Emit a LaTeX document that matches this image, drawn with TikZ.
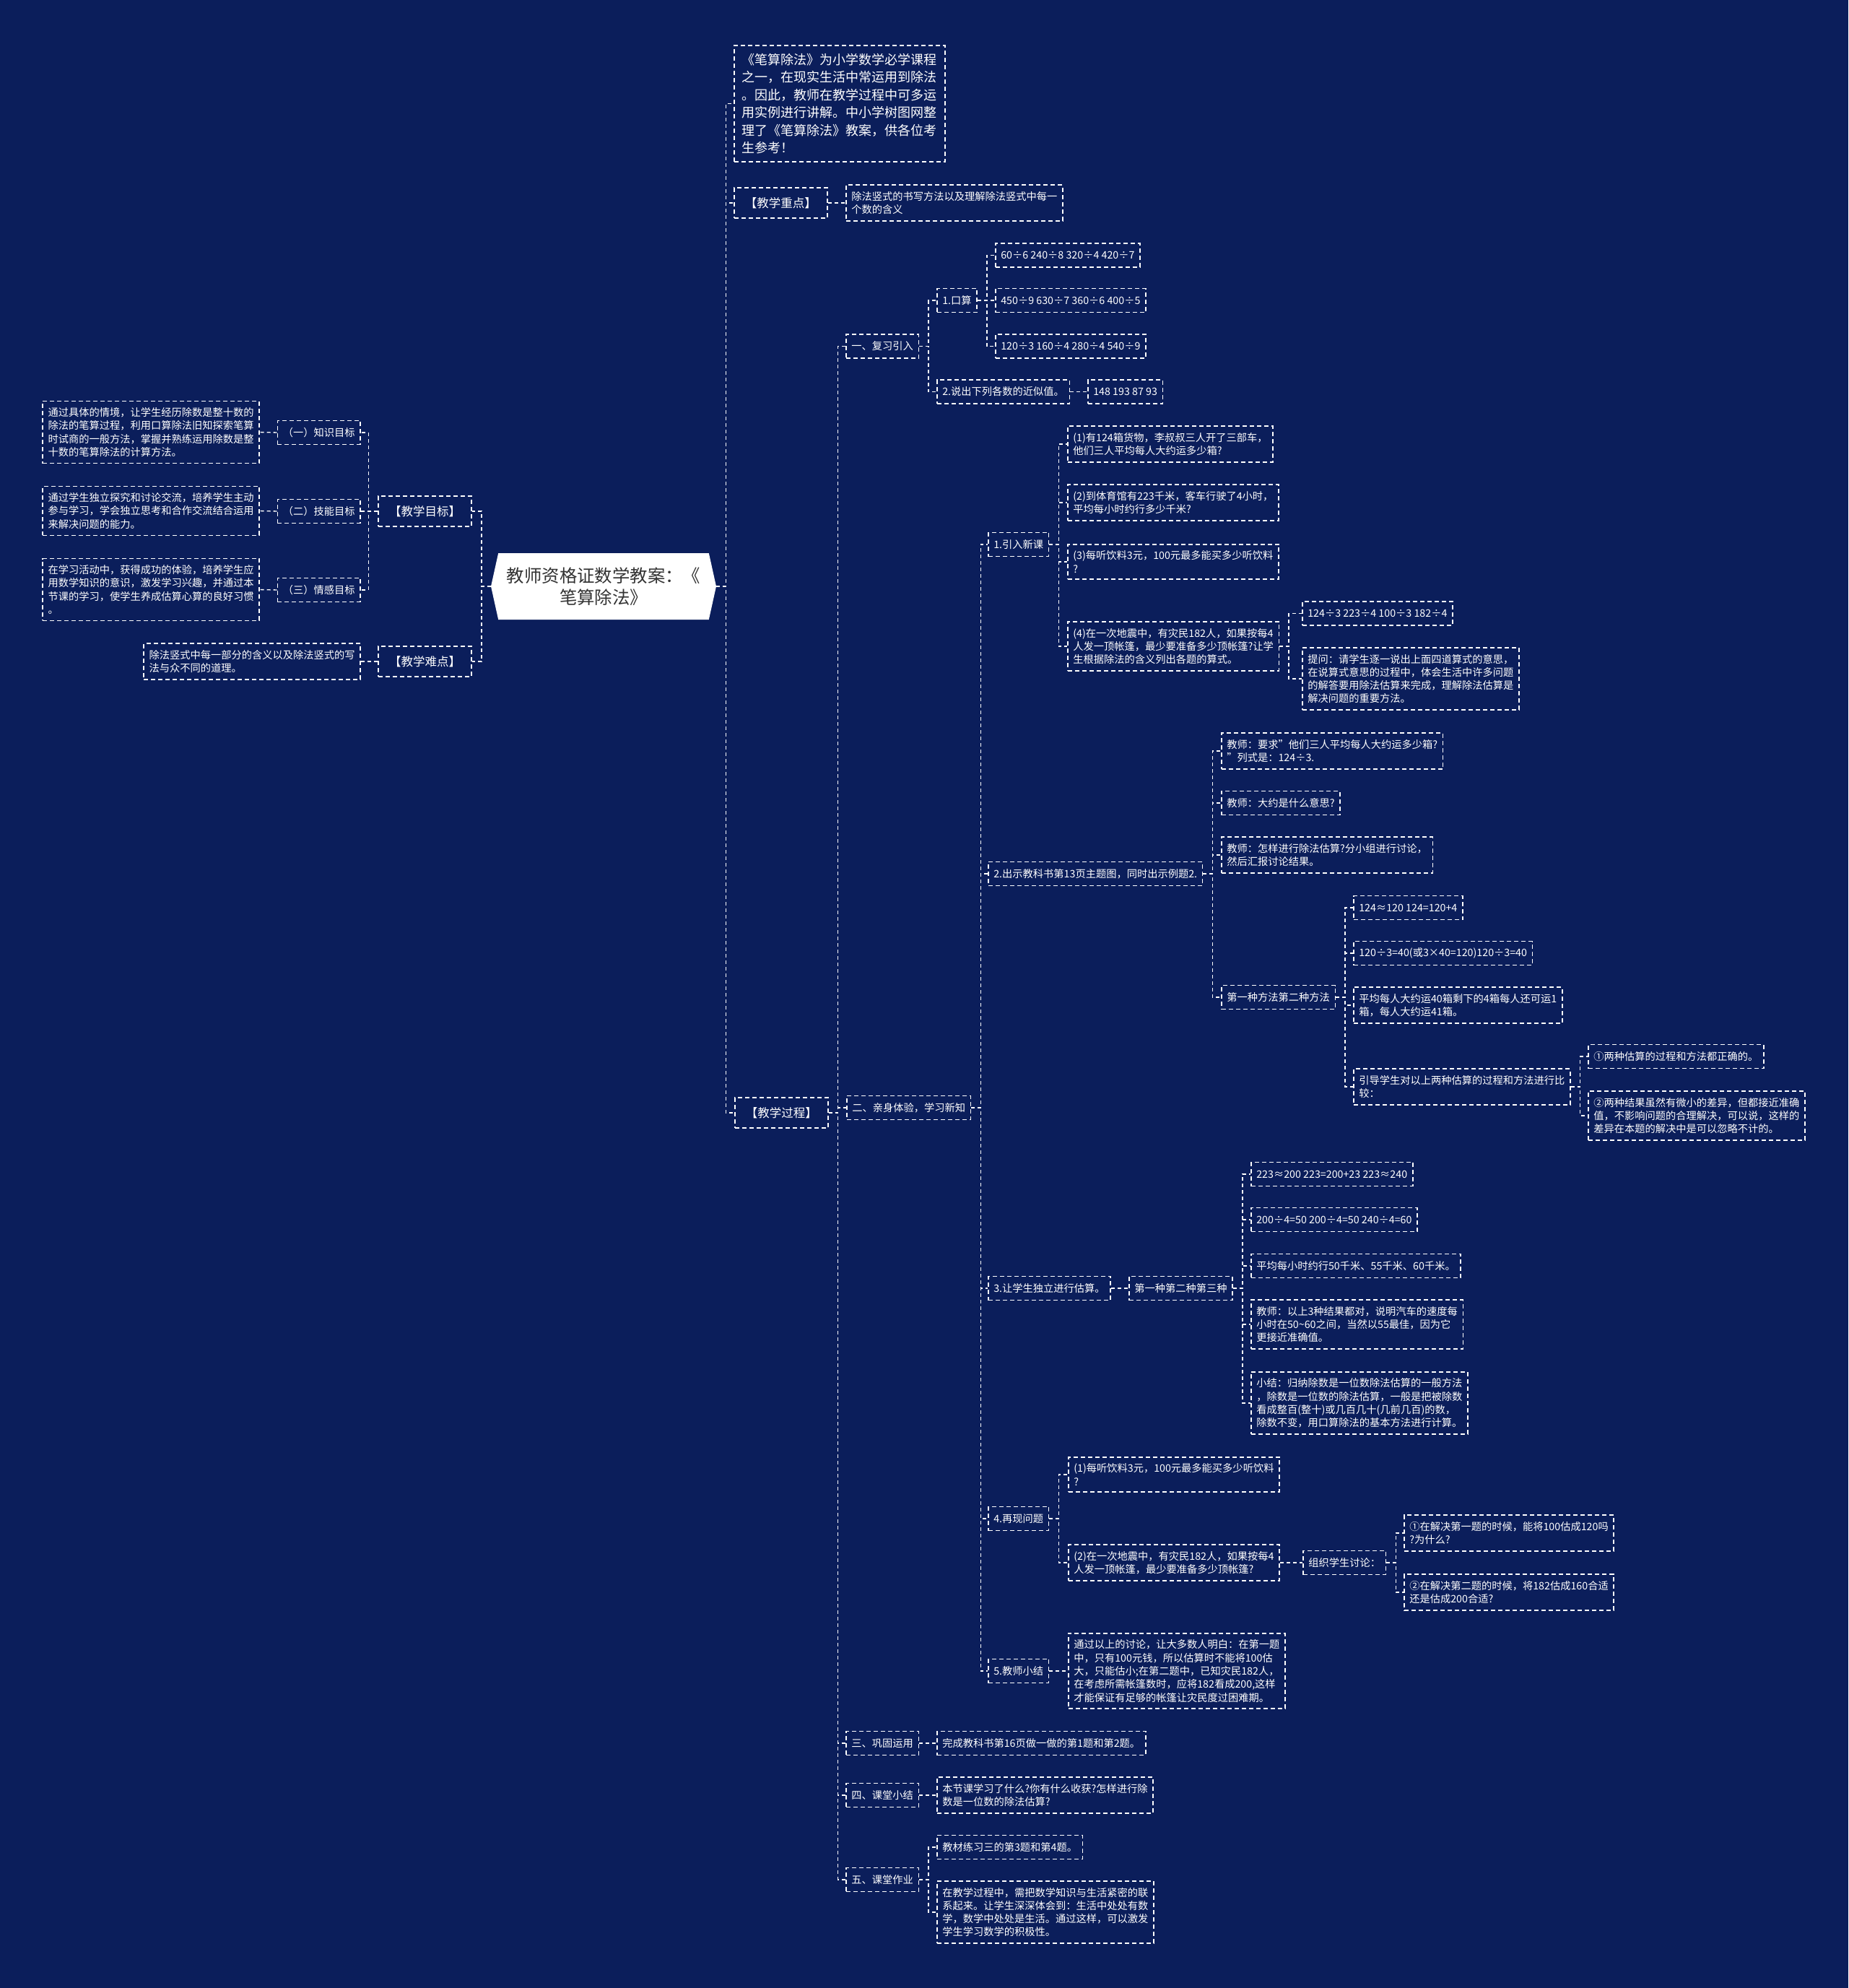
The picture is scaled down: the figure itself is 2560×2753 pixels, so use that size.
\documentclass[tikz,border=0pt]{standalone}
\usepackage{fontspec}
\setmainfont{Noto Sans CJK SC}
\usepackage{tikz}
\usetikzlibrary{positioning, shapes.symbols}
\definecolor{bgnavy}{HTML}{0B1E5B}
\definecolor{rootink}{HTML}{333333}

\tikzset{
  link/.style={draw=white, line width=1.4pt, dash pattern=on 5pt off 4pt},
  sbox/.style={draw=white, line width=1.6pt, dash pattern=on 6pt off 4pt, text=white,
    align=left, inner xsep=7.5pt, inner ysep=9pt, minimum height=33pt,
    font=\fontsize{14.25}{18.3}\selectfont},
  mbox/.style={sbox, inner xsep=15pt, minimum height=42pt, font=\fontsize{16.5}{21}\selectfont},
  ibox/.style={sbox, inner xsep=11pt, inner ysep=11pt, font=\fontsize{18}{24.5}\selectfont},
  rootnode/.style={shape=signal, signal to=east and west, signal pointer angle=155,
    fill=white, text=rootink, align=center, inner sep=0pt,
    minimum width=312pt, minimum height=92pt, font=\fontsize{24.4}{30}\selectfont}
}

\begin{document}
\begin{tikzpicture}[x=1pt, y=-1pt]
    % background and page size
    \fill[bgnavy] (0,0) rectangle (2560,2753);
    \useasboundingbox (0,0) rectangle (2560,2753);

    % root
    \node[rootnode] (root) at (836,812) {教师资格证数学教案：《\\笔算除法》};

    % left side
    \node[mbox, anchor=east] (mb) at (654,708) {【教学目标】};
    \node[sbox, anchor=east] (mb1) at (500,599) {（一）知识目标};
    \node[sbox, anchor=east] (mb2) at (500,708) {（二）技能目标};
    \node[sbox, anchor=east] (mb3) at (500,817) {（三）情感目标};
    \node[sbox, anchor=east] (mb1t) at (360,598.5) {通过具体的情境，让学生经历除数是整十数的\\除法的笔算过程，利用口算除法旧知探索笔算\\时试商的一般方法，掌握并熟练运用除数是整\\十数的笔算除法的计算方法。};
    \node[sbox, anchor=east] (mb2t) at (360,707.5) {通过学生独立探究和讨论交流，培养学生主动\\参与学习，学会独立思考和合作交流结合运用\\来解决问题的能力。};
    \node[sbox, anchor=east] (mb3t) at (360,816.5) {在学习活动中，获得成功的体验，培养学生应\\用数学知识的意识，激发学习兴趣，并通过本\\节课的学习，使学生养成估算心算的良好习惯\\。};
    \node[mbox, anchor=east] (nd) at (654,916) {【教学难点】};
    \node[sbox, anchor=east] (ndt) at (500,916) {除法竖式中每一部分的含义以及除法竖式的写\\法与众不同的道理。};

    \foreach \c in {mb,nd} \draw[link] (root.west) -- ++(-13,0) |- (\c.east);
    \foreach \c in {mb1,mb2,mb3} \draw[link] (mb.west) -- ++(-13,0) |- (\c.east);
    \draw[link] (mb1.west) -- (mb1t.east);
    \draw[link] (mb2.west) -- (mb2t.east);
    \draw[link] (mb3.west) -- (mb3t.east);
    \draw[link] (nd.west) -- (ndt.east);

    % right side, first level
    \node[ibox, anchor=west] (intro) at (1016,143.5) {《笔算除法》为小学数学必学课程\\之一，在现实生活中常运用到除法\\。因此，教师在教学过程中可多运\\用实例进行讲解。中小学树图网整\\理了《笔算除法》教案，供各位考\\生参考！};
    \node[mbox, anchor=west] (zd) at (1016,281) {【教学重点】};
    \node[sbox, anchor=west] (zdt) at (1171,281) {除法竖式的书写方法以及理解除法竖式中每一\\个数的含义};
    \node[mbox, anchor=west] (gc) at (1017,1541) {【教学过程】};

    \foreach \c in {intro,zd,gc} \draw[link] (root.east) -- ++(13,0) |- (\c.west);
    \draw[link] (zd.east) -- (zdt.west);

    % 教学过程 steps
    \node[sbox, anchor=west] (s1) at (1171,479.5) {一、复习引入};
    \node[sbox, anchor=west] (s2) at (1172,1534) {二、亲身体验，学习新知};
    \node[sbox, anchor=west] (s3) at (1171,2414) {三、巩固运用};
    \node[sbox, anchor=west] (s4) at (1171,2486) {四、课堂小结};
    \node[sbox, anchor=west] (s5) at (1171,2603) {五、课堂作业};
    \foreach \c in {s1,s2,s3,s4,s5} \draw[link] (gc.east) -- ++(13,0) |- (\c.west);

    % 一、复习引入
    \node[sbox, anchor=west] (ks) at (1297,416) {1.口算};
    \node[sbox, anchor=west] (ks1) at (1378,353.5) {60÷6 240÷8 320÷4 420÷7};
    \node[sbox, anchor=west] (ks2) at (1378,416) {450÷9 630÷7 360÷6 400÷5};
    \node[sbox, anchor=west] (ks3) at (1378,479.5) {120÷3 160÷4 280÷4 540÷9};
    \node[sbox, anchor=west] (jsz) at (1297,542.5) {2.说出下列各数的近似值。};
    \node[sbox, anchor=west] (jszv) at (1506,542.5) {148 193 87 93};
    \foreach \c in {ks,jsz} \draw[link] (s1.east) -- ++(13,0) |- (\c.west);
    \foreach \c in {ks1,ks2,ks3} \draw[link] (ks.east) -- ++(13,0) |- (\c.west);
    \draw[link] (jsz.east) -- (jszv.west);

    % 二、亲身体验，学习新知
    \node[sbox, anchor=west] (yr) at (1368,754) {1.引入新课};
    \node[sbox, anchor=west] (cs) at (1368,1210) {2.出示教科书第13页主题图，同时出示例题2.};
    \node[sbox, anchor=west] (gs) at (1368,1784) {3.让学生独立进行估算。};
    \node[sbox, anchor=west] (zx) at (1368,2103) {4.再现问题};
    \node[sbox, anchor=west] (xj) at (1368,2314) {5.教师小结};
    \foreach \c in {yr,cs,gs,zx,xj} \draw[link] (s2.east) -- ++(13,0) |- (\c.west);

    % 1.引入新课
    \node[sbox, anchor=west] (q1) at (1478,615) {(1)有124箱货物，李叔叔三人开了三部车，\\他们三人平均每人大约运多少箱?};
    \node[sbox, anchor=west] (q2) at (1478,696) {(2)到体育馆有223千米，客车行驶了4小时，\\平均每小时约行多少千米?};
    \node[sbox, anchor=west] (q3) at (1478,778) {(3)每听饮料3元，100元最多能买多少听饮料\\?};
    \node[sbox, anchor=west] (q4) at (1478,895) {(4)在一次地震中，有灾民182人，如果按每4\\人发一顶帐篷，最少要准备多少顶帐篷?让学\\生根据除法的含义列出各题的算式。};
    \node[sbox, anchor=west] (q4a) at (1803,849.5) {124÷3 223÷4 100÷3 182÷4};
    \node[sbox, anchor=west] (q4b) at (1803,940) {提问：请学生逐一说出上面四道算式的意思，\\在说算式意思的过程中，体会生活中许多问题\\的解答要用除法估算来完成，理解除法估算是\\解决问题的重要方法。};
    \foreach \c in {q1,q2,q3,q4} \draw[link] (yr.east) -- ++(13,0) |- (\c.west);
    \foreach \c in {q4a,q4b} \draw[link] (q4.east) -- ++(13,0) |- (\c.west);

    % 2.出示教科书
    \node[sbox, anchor=west] (cs1) at (1691,1040) {教师：要求\symbol{34}他们三人平均每人大约运多少箱?\\\symbol{34}列式是：124÷3.};
    \node[sbox, anchor=west] (cs2) at (1691,1112) {教师：大约是什么意思?};
    \node[sbox, anchor=west] (cs3) at (1691,1184) {教师：怎样进行除法估算?分小组进行讨论，\\然后汇报讨论结果。};
    \node[sbox, anchor=west] (cs4) at (1691,1381) {第一种方法第二种方法};
    \node[sbox, anchor=west] (m1) at (1874,1257) {124≈120 124=120+4};
    \node[sbox, anchor=west] (m2) at (1874,1320) {120÷3=40(或3×40=120)120÷3=40};
    \node[sbox, anchor=west] (m3) at (1874,1392) {平均每人大约运40箱剩下的4箱每人还可运1\\箱，每人大约运41箱。};
    \node[sbox, anchor=west] (m4) at (1874,1505) {引导学生对以上两种估算的过程和方法进行比\\较：};
    \node[sbox, anchor=west] (m4a) at (2199,1463) {①两种估算的过程和方法都正确的。};
    \node[sbox, anchor=west] (m4b) at (2199,1545) {②两种结果虽然有微小的差异，但都接近准确\\值，不影响问题的合理解决，可以说，这样的\\差异在本题的解决中是可以忽略不计的。};
    \foreach \c in {cs1,cs2,cs3,cs4} \draw[link] (cs.east) -- ++(13,0) |- (\c.west);
    \foreach \c in {m1,m2,m3,m4} \draw[link] (cs4.east) -- ++(13,0) |- (\c.west);
    \foreach \c in {m4a,m4b} \draw[link] (m4.east) -- ++(13,0) |- (\c.west);

    % 3.让学生独立进行估算
    \node[sbox, anchor=west] (gs0) at (1563,1784) {第一种第二种第三种};
    \node[sbox, anchor=west] (g1) at (1732,1626) {223≈200 223=200+23 223≈240};
    \node[sbox, anchor=west] (g2) at (1732,1689) {200÷4=50 200÷4=50 240÷4=60};
    \node[sbox, anchor=west] (g3) at (1732,1753) {平均每小时约行50千米、55千米、60千米。};
    \node[sbox, anchor=west] (g4) at (1732,1834) {教师：以上3种结果都对，说明汽车的速度每\\小时在50\textasciitilde 60之间，当然以55最佳，因为它\\更接近准确值。};
    \node[sbox, anchor=west] (g5) at (1732,1943) {小结：归纳除数是一位数除法估算的一般方法\\，除数是一位数的除法估算，一般是把被除数\\看成整百(整十)或几百几十(几前几百)的数，\\除数不变，用口算除法的基本方法进行计算。};
    \draw[link] (gs.east) -- (gs0.west);
    \foreach \c in {g1,g2,g3,g4,g5} \draw[link] (gs0.east) -- ++(13,0) |- (\c.west);

    % 4.再现问题
    \node[sbox, anchor=west] (z1) at (1479,2042) {(1)每听饮料3元，100元最多能买多少听饮料\\?};
    \node[sbox, anchor=west] (z2) at (1479,2164) {(2)在一次地震中，有灾民182人，如果按每4\\人发一顶帐篷，最少要准备多少顶帐篷?};
    \node[sbox, anchor=west] (zz) at (1804,2164) {组织学生讨论：};
    \node[sbox, anchor=west] (zz1) at (1944,2123) {①在解决第一题的时候，能将100估成120吗\\?为什么?};
    \node[sbox, anchor=west] (zz2) at (1944,2205) {②在解决第二题的时候，将182估成160合适\\还是估成200合适?};
    \foreach \c in {z1,z2} \draw[link] (zx.east) -- ++(13,0) |- (\c.west);
    \draw[link] (z2.east) -- (zz.west);
    \foreach \c in {zz1,zz2} \draw[link] (zz.east) -- ++(13,0) |- (\c.west);

    % 5.教师小结
    \node[sbox, anchor=west] (xjt) at (1479,2314) {通过以上的讨论，让大多数人明白：在第一题\\中，只有100元钱，所以估算时不能将100估\\大，只能估小;在第二题中，已知灾民182人，\\在考虑所需帐篷数时，应将182看成200,这样\\才能保证有足够的帐篷让灾民度过困难期。};
    \draw[link] (xj.east) -- (xjt.west);

    % 三、四、五
    \node[sbox, anchor=west] (s3t) at (1297,2414) {完成教科书第16页做一做的第1题和第2题。};
    \node[sbox, anchor=west] (s4t) at (1297,2486) {本节课学习了什么?你有什么收获?怎样进行除\\数是一位数的除法估算?};
    \node[sbox, anchor=west] (s5a) at (1297,2558) {教材练习三的第3题和第4题。};
    \node[sbox, anchor=west] (s5b) at (1297,2648) {在教学过程中，需把数学知识与生活紧密的联\\系起来。让学生深深体会到：生活中处处有数\\学，数学中处处是生活。通过这样，可以激发\\学生学习数学的积极性。};
    \draw[link] (s3.east) -- (s3t.west);
    \draw[link] (s4.east) -- (s4t.west);
    \foreach \c in {s5a,s5b} \draw[link] (s5.east) -- ++(13,0) |- (\c.west);
\end{tikzpicture}
\end{document}
